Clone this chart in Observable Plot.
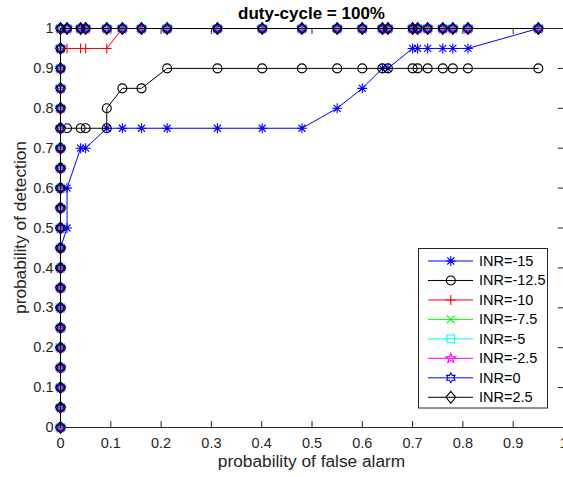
<!DOCTYPE html>
<html><head><meta charset="utf-8">
<script src="https://cdn.jsdelivr.net/npm/d3@7"></script>
<script src="https://cdn.jsdelivr.net/npm/@observablehq/plot@0.6"></script>
<style>
html,body{margin:0;padding:0;background:#fff}
#chart svg{display:block}
</style>
</head><body><div id="chart"></div>
<script>
// ---------- data ----------
const seriesNames = ["INR=-15","INR=-12.5","INR=-10","INR=-7.5","INR=-5","INR=-2.5","INR=0","INR=2.5"];
const seriesColors = ["#0000ff","#000000","#ff0000","#00ff00","#00ffff","#ff00ff","#0000ff","#000000"];
const seriesMarkers = ["asterisk","circle","plus","times","square","pentagram","hexagram","diamond"];

const pfaM15 = [0,0,0,0,0,0,0,0,0,0,0.013,0.013,0.04,0.05,0.092,0.123,0.161,0.212,0.312,0.401,0.48,0.55,0.60,0.64,0.651,0.70,0.71,0.73,0.76,0.78,0.81,0.95];
const pdM15  = [0,0.05,0.1,0.15,0.2,0.25,0.3,0.35,0.4,0.45,0.5,0.6,0.7,0.7,0.75,0.75,0.75,0.75,0.75,0.75,0.75,0.8,0.85,0.9,0.9,0.95,0.95,0.95,0.95,0.95,0.95,1];

const pfaM12_5 = [0,0,0,0,0,0,0,0,0,0,0,0,0,0,0,0,0.013,0.04,0.05,0.092,0.092,0.123,0.161,0.212,0.312,0.401,0.48,0.55,0.60,0.64,0.651,0.70,0.71,0.73,0.76,0.78,0.81,0.95];
const pdM12_5  = [0,0.05,0.1,0.15,0.2,0.25,0.3,0.35,0.4,0.45,0.5,0.55,0.6,0.65,0.7,0.75,0.75,0.75,0.75,0.75,0.8,0.85,0.85,0.9,0.9,0.9,0.9,0.9,0.9,0.9,0.9,0.9,0.9,0.9,0.9,0.9,0.9,0.9];

const pfaM10 = [0,0,0,0,0,0,0,0,0,0,0,0,0,0,0,0,0,0,0,0,0.013,0.04,0.05,0.092,0.123,0.161,0.212,0.312,0.401,0.48,0.55,0.60,0.64,0.651,0.70,0.71,0.73,0.76,0.78,0.81,0.95];
const pdM10  = [0,0.05,0.1,0.15,0.2,0.25,0.3,0.35,0.4,0.45,0.5,0.55,0.6,0.65,0.7,0.75,0.8,0.85,0.9,0.95,0.95,0.95,0.95,0.95,1,1,1,1,1,1,1,1,1,1,1,1,1,1,1,1,1];

// INR = -7.5, -5, -2.5, 0, 2.5 (all identical)
const pfaTop = [0,0,0,0,0,0,0,0,0,0,0,0,0,0,0,0,0,0,0,0,0,0.013,0.04,0.05,0.092,0.123,0.161,0.212,0.312,0.401,0.48,0.55,0.60,0.64,0.651,0.70,0.71,0.73,0.76,0.78,0.81,0.95];
const pdTop  = [0,0.05,0.1,0.15,0.2,0.25,0.3,0.35,0.4,0.45,0.5,0.55,0.6,0.65,0.7,0.75,0.8,0.85,0.9,0.95,1,1,1,1,1,1,1,1,1,1,1,1,1,1,1,1,1,1,1,1,1,1];

const xTicks = [0,0.1,0.2,0.3,0.4,0.5,0.6,0.7,0.8,0.9,1];
const yTicks = [0,0.1,0.2,0.3,0.4,0.5,0.6,0.7,0.8,0.9,1];

const titleText = "duty-cycle = 100%";
const xLabel = "probability of false alarm";
const yLabel = "probability of detection";

const seriesPfa = [pfaM15, pfaM12_5, pfaM10, pfaTop, pfaTop, pfaTop, pfaTop, pfaTop];
const seriesPd  = [pdM15, pdM12_5, pdM10, pdTop, pdTop, pdTop, pdTop, pdTop];

// ---------- MATLAB-like marker symbols ----------
const rad = s => Math.sqrt(s / Math.PI);
function star(c, n, ro, ri) {
  for (let k = 0; k < 2 * n; k++) {
    const a = -Math.PI / 2 + k * Math.PI / n, r = k % 2 ? ri : ro;
    const px = r * Math.cos(a), py = r * Math.sin(a);
    k ? c.lineTo(px, py) : c.moveTo(px, py);
  }
  c.closePath();
}
const symbols = {
  asterisk: {draw(c, s) { const r = rad(s) * 1.1, d = r * Math.SQRT1_2;
    c.moveTo(0, -r); c.lineTo(0, r); c.moveTo(-r, 0); c.lineTo(r, 0);
    c.moveTo(-d, -d); c.lineTo(d, d); c.moveTo(-d, d); c.lineTo(d, -d); }},
  circle: {draw(c, s) { const r = rad(s); c.moveTo(r, 0); c.arc(0, 0, r, 0, 2 * Math.PI); }},
  plus: {draw(c, s) { const r = rad(s) * 1.1; c.moveTo(0, -r); c.lineTo(0, r); c.moveTo(-r, 0); c.lineTo(r, 0); }},
  times: {draw(c, s) { const d = rad(s) * 0.9; c.moveTo(-d, -d); c.lineTo(d, d); c.moveTo(-d, d); c.lineTo(d, -d); }},
  square: {draw(c, s) { const h = rad(s) * 0.85; c.moveTo(-h, -h); c.lineTo(h, -h); c.lineTo(h, h); c.lineTo(-h, h); c.closePath(); }},
  pentagram: {draw(c, s) { const r = rad(s); star(c, 5, r * 1.12, r * 0.45); }},
  hexagram: {draw(c, s) { const r = rad(s); star(c, 6, r * 1.08, r * 0.62); }},
  diamond: {draw(c, s) { const r = rad(s); c.moveTo(0, -r * 1.3); c.lineTo(r * 1.1, 0); c.lineTo(0, r * 1.3); c.lineTo(-r * 1.1, 0); c.closePath(); }}
};
const markerR = 4.5;

// ---------- build table ----------
const rows = [];
seriesNames.forEach((name, i) => {
  seriesPfa[i].forEach((x, j) => rows.push({series: name, pfa: x, pd: seriesPd[i][j]}));
});

const axisColor = "#262626";
const marks = [
  Plot.frame({stroke: axisColor, strokeWidth: 1}),
  Plot.ruleX(xTicks, {x: d => d, y1: 0, y2: 0.015, stroke: axisColor}),
  Plot.ruleX(xTicks, {x: d => d, y1: 0.985, y2: 1, stroke: axisColor}),
  Plot.ruleY(yTicks, {y: d => d, x1: 0, x2: 0.01, stroke: axisColor}),
  Plot.ruleY(yTicks, {y: d => d, x1: 0.99, x2: 1, stroke: axisColor}),
  Plot.axisX({ticks: xTicks, tickSize: 0, tickPadding: 10, tickFormat: d => String(d), label: null, fill: axisColor}),
  Plot.axisY({ticks: yTicks, tickSize: 0, tickPadding: 7, tickFormat: d => String(d), label: null, fill: axisColor})
];
seriesNames.forEach((name, i) => {
  const data = rows.filter(r => r.series === name);
  marks.push(Plot.line(data, {x: "pfa", y: "pd", stroke: seriesColors[i], strokeWidth: 1}));
  marks.push(Plot.dot(data, {x: "pfa", y: "pd", symbol: symbols[seriesMarkers[i]], r: markerR,
    stroke: seriesColors[i], fill: "none", strokeWidth: 1.1}));
});

const chart = Plot.plot({
  width: 563, height: 477,
  marginLeft: 60, marginRight: 0, marginTop: 28, marginBottom: 50,
  x: {domain: [0, 1]},
  y: {domain: [0, 1]},
  style: {fontFamily: "'Liberation Sans', Arial, sans-serif", fontSize: "14.5px", color: axisColor, background: "#fff", overflow: "visible"},
  marks
});
document.getElementById("chart").appendChild(chart);

// ---------- title, labels, legend ----------
const svg = d3.select(chart);
const font = "'Liberation Sans', Arial, sans-serif";
svg.append("text").attr("x", 311.5).attr("y", 19).attr("text-anchor", "middle")
  .attr("font-family", font).attr("font-size", "17px").attr("font-weight", "bold").attr("fill", "#000").text(titleText);
svg.append("text").attr("x", 311.5).attr("y", 467).attr("text-anchor", "middle")
  .attr("font-family", font).attr("font-size", "17.3px").attr("fill", axisColor).text(xLabel);
svg.append("text").attr("transform", "translate(26,227.5) rotate(-90)").attr("text-anchor", "middle")
  .attr("font-family", font).attr("font-size", "17.3px").attr("fill", axisColor).text(yLabel);

const lg = svg.append("g");
lg.append("rect").attr("x", 418.5).attr("y", 248.5).attr("width", 129).attr("height", 159.5)
  .attr("fill", "#fff").attr("stroke", axisColor).attr("stroke-width", 1);
seriesNames.forEach((name, i) => {
  const y = 261 + i * 19.47;
  lg.append("line").attr("x1", 428).attr("x2", 473).attr("y1", y).attr("y2", y)
    .attr("stroke", seriesColors[i]).attr("stroke-width", 1);
  lg.append("path").attr("d", d3.symbol(symbols[seriesMarkers[i]], markerR * markerR * Math.PI)())
    .attr("transform", `translate(450.8,${y})`).attr("fill", "none").attr("stroke", seriesColors[i]).attr("stroke-width", 1.1);
  lg.append("text").attr("x", 479).attr("y", y + 5).attr("text-anchor", "start").attr("font-family", font).attr("font-size", "14.5px")
    .attr("fill", "#000").text(name);
});
</script>
</body></html>
